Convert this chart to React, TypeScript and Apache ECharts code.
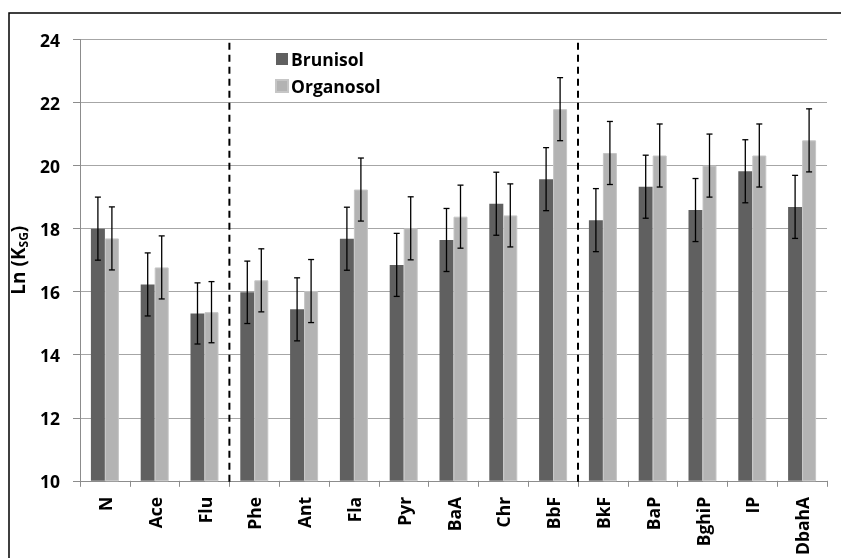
import React, { useEffect, useRef } from "react";
import * as echarts from "echarts";

const categories = ["N", "Ace", "Flu", "Phe", "Ant", "Fla", "Pyr", "BaA", "Chr", "BbF", "BkF", "BaP", "BghiP", "IP", "DbahA"];
const brunisol = [18.0, 16.23, 15.31, 15.98, 15.44, 17.68, 16.85, 17.64, 18.79, 19.57, 18.27, 19.33, 18.59, 19.82, 18.69];
const organosol = [17.69, 16.77, 15.35, 16.36, 16.02, 19.24, 18.01, 18.38, 18.42, 21.79, 20.4, 20.32, 20.0, 20.32, 20.8];
const brunisolErr = [1.0, 1.0, 0.97, 0.99, 1.0, 1.0, 1.0, 1.0, 1.0, 1.0, 1.0, 1.0, 1.0, 1.0, 1.0];
const organosolErr = [1.0, 1.0, 0.97, 1.0, 1.0, 1.0, 1.0, 1.0, 1.0, 1.0, 1.0, 1.0, 1.0, 1.0, 1.0];
const dividersAfter = ["Flu", "BbF"];
const dividerTop = 23.9;
const yMin = 10;
const yMax = 24;
const yStep = 2;

const FONT = "Open Sans";
const FS = 17.5;

export default function App() {
  const ref = useRef<HTMLDivElement>(null);
  useEffect(() => {
    if (!ref.current) return;
    const chart = echarts.init(ref.current, null, { renderer: "svg" });
    const errRender = (offset: number) => (params: any, api: any) => {
      const i = api.value(0);
      const v = api.value(1);
      const e = api.value(2);
      const top = api.coord([i, v + e]);
      const bot = api.coord([i, v - e]);
      const x = top[0] + offset;
      const style = { stroke: "#000", lineWidth: 1.3 };
      return {
        type: "group",
        children: [
          { type: "line", shape: { x1: x, y1: top[1], x2: x, y2: bot[1] }, style },
          { type: "line", shape: { x1: x - 3, y1: top[1], x2: x + 3, y2: top[1] }, style },
          { type: "line", shape: { x1: x - 3, y1: bot[1], x2: x + 3, y2: bot[1] }, style },
        ],
      };
    };
    chart.setOption({
      animation: false,
      textStyle: { fontFamily: FONT },
      grid: { left: 80, right: 14, top: 39.5, bottom: 77, containLabel: false },
      legend: {
        data: ["Brunisol", "Organosol"],
        orient: "vertical",
        left: 275,
        top: 49,
        padding: 0,
        itemWidth: 12,
        itemHeight: 12,
        itemGap: 7,
        icon: "rect",
        textStyle: { fontFamily: FONT, fontWeight: "bold", fontSize: FS, color: "#000", lineHeight: 20, padding: [0, 0, 0, -2] },
      },
      graphic: [
        {
          type: "rect",
          shape: { x: 9, y: 13, width: 840, height: 560 },
          style: { fill: "none", stroke: "#000", lineWidth: 1.5 },
          silent: true,
        },
      ],
      xAxis: {
        type: "category",
        data: categories,
        axisLine: { show: true, lineStyle: { color: "#8c8c8c", width: 1 } },
        axisTick: { show: true, alignWithLabel: false, length: 6, lineStyle: { color: "#8c8c8c" } },
        axisLabel: { rotate: 90, interval: 0, margin: 16, fontFamily: FONT, fontWeight: "bold", fontSize: FS, color: "#000" },
        splitLine: { show: false },
      },
      yAxis: {
        type: "value",
        min: yMin,
        max: yMax,
        interval: yStep,
        name: "{a|Ln (K}{s|SG}{a|)}",
        nameLocation: "middle",
        nameRotate: 90,
        nameGap: 42,
        nameTextStyle: {
          rich: {
            a: { fontFamily: FONT, fontWeight: "bold", fontSize: 19, color: "#000", lineHeight: 22 },
            s: { fontFamily: FONT, fontWeight: "bold", fontSize: 12, color: "#000", lineHeight: 22, verticalAlign: "bottom" },
          },
        },
        axisLine: { show: true, lineStyle: { color: "#8c8c8c", width: 1 } },
        axisTick: { show: true, length: 7, lineStyle: { color: "#8c8c8c" } },
        axisLabel: { margin: 20, fontFamily: FONT, fontWeight: "bold", fontSize: FS, color: "#000" },
        splitLine: { show: true, lineStyle: { color: "#a6a6a6", width: 1 } },
      },
      series: [
        {
          name: "Brunisol",
          type: "bar",
          data: brunisol,
          barWidth: 14,
          barGap: "0%",
          itemStyle: { color: "#606060" },
        },
        {
          name: "Organosol",
          type: "bar",
          data: organosol,
          barWidth: 14,
          barGap: "0%",
          itemStyle: { color: "#b3b3b3", borderColor: "#c6c6c6", borderWidth: 1 },
        },
        {
          name: "errB",
          type: "custom",
          renderItem: errRender(-7),
          data: categories.map((_, i) => [i, brunisol[i], brunisolErr[i]]),
          encode: { x: 0, y: 1 },
          z: 10,
          silent: true,
        },
        {
          name: "errO",
          type: "custom",
          renderItem: errRender(7),
          data: categories.map((_, i) => [i, organosol[i], organosolErr[i]]),
          encode: { x: 0, y: 1 },
          z: 10,
          silent: true,
        },
        {
          name: "dividers",
          type: "custom",
          renderItem: (params: any, api: any) => {
            const i = api.value(0);
            const t = api.value(1);
            const a = api.coord([i, yMin]);
            const b = api.coord([i + 1, yMin]);
            const top = api.coord([i, t]);
            const x = (a[0] + b[0]) / 2;
            return {
              type: "line",
              shape: { x1: x, y1: top[1], x2: x, y2: a[1] + 1 },
              style: { stroke: "#000", lineWidth: 2, lineDash: [7, 5] },
            };
          },
          data: dividersAfter.map((c) => [categories.indexOf(c), dividerTop]),
          encode: { x: 0, y: 1 },
          z: 11,
          silent: true,
        },
      ],
    });
    return () => chart.dispose();
  }, []);
  return <div ref={ref} style={{ position: "fixed", left: 0, top: 0, width: 841, height: 558 }} />;
}
